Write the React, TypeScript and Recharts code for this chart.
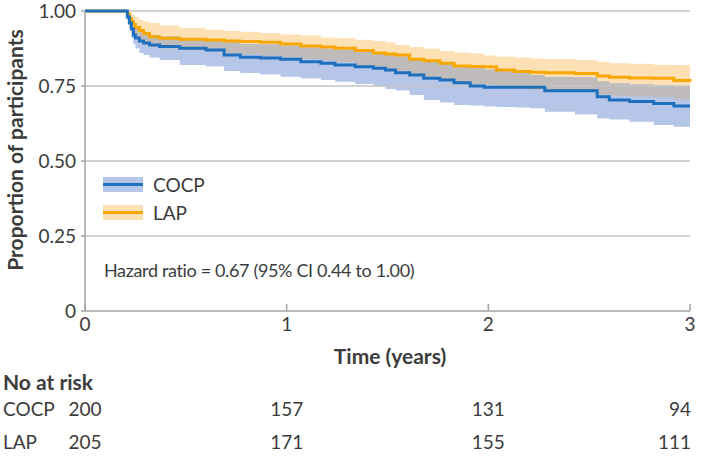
import React from 'react';
import { ComposedChart, Line, Area, XAxis, YAxis, ReferenceLine } from 'recharts';

// Time grid (years) at which the Kaplan-Meier steps are read
const times = [0, 0.21, 0.22, 0.23, 0.24, 0.25, 0.27, 0.29, 0.32, 0.37, 0.47, 0.6, 0.69, 0.77, 0.87, 0.97, 1.07, 1.17, 1.24, 1.34, 1.43, 1.49, 1.54, 1.61, 1.68, 1.76, 1.83, 1.91, 1.98, 2.04, 2.13, 2.21, 2.28, 2.43, 2.54, 2.6, 2.7, 2.82, 2.92, 3.0];

// COCP
const cocpSurvival = [1.0, 0.98, 0.96, 0.94, 0.92, 0.91, 0.9, 0.893, 0.887, 0.882, 0.876, 0.87, 0.853, 0.846, 0.843, 0.839, 0.831, 0.826, 0.82, 0.814, 0.809, 0.803, 0.794, 0.787, 0.776, 0.77, 0.761, 0.75, 0.746, 0.746, 0.746, 0.746, 0.734, 0.734, 0.714, 0.703, 0.698, 0.692, 0.683, 0.683];
const cocpLower = [1.0, 0.97, 0.94, 0.91, 0.89, 0.875, 0.86, 0.853, 0.845, 0.837, 0.82, 0.815, 0.8, 0.793, 0.788, 0.781, 0.775, 0.77, 0.764, 0.757, 0.748, 0.74, 0.735, 0.72, 0.703, 0.695, 0.687, 0.685, 0.682, 0.68, 0.678, 0.676, 0.664, 0.655, 0.642, 0.638, 0.631, 0.62, 0.614, 0.614];
const cocpUpper = [1.0, 0.99, 0.98, 0.965, 0.95, 0.94, 0.93, 0.925, 0.92, 0.915, 0.91, 0.905, 0.895, 0.89, 0.888, 0.884, 0.878, 0.874, 0.87, 0.864, 0.86, 0.855, 0.848, 0.842, 0.833, 0.826, 0.82, 0.81, 0.805, 0.802, 0.795, 0.787, 0.78, 0.778, 0.765, 0.758, 0.755, 0.752, 0.748, 0.748];

// LAP
const lapSurvival = [1.0, 0.99, 0.975, 0.965, 0.955, 0.945, 0.935, 0.925, 0.914, 0.909, 0.906, 0.903, 0.9, 0.898, 0.896, 0.89, 0.883, 0.88, 0.876, 0.868, 0.86, 0.857, 0.853, 0.839, 0.834, 0.826, 0.817, 0.815, 0.814, 0.803, 0.798, 0.796, 0.794, 0.792, 0.783, 0.779, 0.777, 0.776, 0.768, 0.764];
const lapLower = [1.0, 0.975, 0.955, 0.94, 0.925, 0.91, 0.9, 0.89, 0.88, 0.875, 0.87, 0.866, 0.86, 0.855, 0.852, 0.846, 0.84, 0.836, 0.83, 0.82, 0.812, 0.806, 0.8, 0.785, 0.778, 0.77, 0.76, 0.757, 0.755, 0.745, 0.74, 0.737, 0.735, 0.733, 0.722, 0.718, 0.715, 0.712, 0.705, 0.703];
const lapUpper = [1.0, 1.0, 0.995, 0.99, 0.985, 0.98, 0.97, 0.965, 0.96, 0.952, 0.943, 0.937, 0.933, 0.931, 0.927, 0.922, 0.918, 0.912, 0.909, 0.904, 0.9, 0.896, 0.887, 0.88, 0.875, 0.866, 0.862, 0.858, 0.852, 0.848, 0.845, 0.842, 0.84, 0.837, 0.831, 0.826, 0.824, 0.821, 0.82, 0.82];

const yTicks = [0, 0.25, 0.5, 0.75, 1];
const yTickLabels = ['0', '0.25', '0.50', '0.75', '1.00'];
const gridLevels = [0.25, 0.5, 0.75, 1];
const xTicks = [0, 1, 2, 3];

const atRiskTimes = [0, 1, 2, 3];
const cocpAtRisk = [200, 157, 131, 94];
const lapAtRisk = [205, 171, 155, 111];

const hazardText = 'Hazard ratio = 0.67 (95% CI 0.44 to 1.00)';

const BLUE = '#1f6fbf';
const ORANGE = '#f7a800';
const BLUE_BAND = '#b5c6e8';
const ORANGE_BAND = '#fde1b4';
const GRAY_BAND = '#bfbbbb';
const TEXT = '#3c3c3c';
const FONT = 'Lato, "Noto Sans", sans-serif';

const data = times.map((t, i) => {
  const lo = Math.max(cocpLower[i], lapLower[i]);
  const hi = Math.min(cocpUpper[i], lapUpper[i]);
  return {
    t,
    cocp: cocpSurvival[i],
    lap: lapSurvival[i],
    cocpBand: [cocpLower[i], cocpUpper[i]],
    lapBand: [lapLower[i], lapUpper[i]],
    overlap: hi > lo ? [lo, hi] : [lo, lo],
  };
});

// plot frame (used to place the at-risk numbers under the x ticks)
const PLOT_LEFT = 85;
const PLOT_RIGHT = 690;
const xPos = (t: number) => PLOT_LEFT + (t / 3) * (PLOT_RIGHT - PLOT_LEFT);

const Swatch = ({ band, line }: { band: string; line: string }) => (
  <div style={{ position: 'relative', width: 40, height: 15, background: band }}>
    <div style={{ position: 'absolute', left: 0, right: 0, top: 6, height: 3, background: line }} />
  </div>
);

export default function App() {
  return (
    <div style={{ position: 'relative', width: 708, height: 463, fontFamily: FONT, color: TEXT }}>
      <style>{`body{margin:0;}`}</style>
      <ComposedChart width={708} height={340} data={data} margin={{ top: 11, right: 18, bottom: 0, left: 0 }}>
        <XAxis
          dataKey="t"
          type="number"
          domain={[0, 3]}
          ticks={xTicks}
          height={29}
          tickSize={-7}
          tickMargin={14}
          axisLine={{ stroke: '#a3a3a3', strokeWidth: 1.5 }}
          tickLine={{ stroke: '#a3a3a3', strokeWidth: 1.5 }}
          tick={{ fill: TEXT, fontSize: 19, fontFamily: FONT }}
        />
        <YAxis
          type="number"
          domain={[0, 1]}
          ticks={yTicks}
          width={85}
          tickSize={4}
          tickMargin={5}
          tickFormatter={(v: number) => yTickLabels[yTicks.indexOf(v)] ?? String(v)}
          axisLine={{ stroke: '#a3a3a3', strokeWidth: 1.5 }}
          tickLine={{ stroke: '#a3a3a3', strokeWidth: 1.5 }}
          tick={{ fill: TEXT, fontSize: 19, fontFamily: FONT }}
        />
        <Area dataKey="lapBand" type="stepAfter" stroke="none" fill={ORANGE_BAND} fillOpacity={1} isAnimationActive={false} />
        <Area dataKey="cocpBand" type="stepAfter" stroke="none" fill={BLUE_BAND} fillOpacity={1} isAnimationActive={false} />
        <Area dataKey="overlap" type="stepAfter" stroke="none" fill={GRAY_BAND} fillOpacity={1} isAnimationActive={false} />
        {gridLevels.map((g) => (
          <ReferenceLine key={g} y={g} stroke="#c4c4c4" strokeWidth={1.5} />
        ))}
        <Line dataKey="lap" type="stepAfter" stroke={ORANGE} strokeWidth={3} dot={false} isAnimationActive={false} />
        <Line dataKey="cocp" type="stepAfter" stroke={BLUE} strokeWidth={3} dot={false} isAnimationActive={false} />
      </ComposedChart>

      {/* y axis title */}
      <div
        style={{
          position: 'absolute',
          left: 14,
          top: 150,
          transform: 'translate(-50%, -50%) rotate(-90deg)',
          whiteSpace: 'nowrap',
          fontWeight: 700,
          fontSize: 21,
        }}
      >
        Proportion of participants
      </div>

      {/* legend */}
      <div style={{ position: 'absolute', left: 103, top: 177, display: 'flex', alignItems: 'center' }}>
        <Swatch band={BLUE_BAND} line={BLUE} />
        <span style={{ marginLeft: 10, fontSize: 19, lineHeight: '15px' }}>COCP</span>
      </div>
      <div style={{ position: 'absolute', left: 103, top: 205, display: 'flex', alignItems: 'center' }}>
        <Swatch band={ORANGE_BAND} line={ORANGE} />
        <span style={{ marginLeft: 10, fontSize: 19, lineHeight: '15px' }}>LAP</span>
      </div>

      {/* hazard ratio */}
      <div style={{ position: 'absolute', left: 104, top: 259, fontSize: 18, letterSpacing: -0.35, lineHeight: '22px', whiteSpace: 'nowrap' }}>
        {hazardText}
      </div>

      {/* x axis title */}
      <div style={{ position: 'absolute', left: 390, top: 355, transform: 'translate(-50%, -50%)', fontWeight: 700, fontSize: 21, whiteSpace: 'nowrap' }}>
        Time (years)
      </div>

      {/* number at risk */}
      <div style={{ position: 'absolute', left: 3, top: 381, transform: 'translateY(-50%)', fontWeight: 700, fontSize: 21 }}>No at risk</div>
      <div style={{ position: 'absolute', left: 3, top: 408, transform: 'translateY(-50%)', fontSize: 19 }}>COCP</div>
      <div style={{ position: 'absolute', left: 3, top: 441, transform: 'translateY(-50%)', fontSize: 19 }}>LAP</div>
      {atRiskTimes.map((t, i) => {
        const last = i === atRiskTimes.length - 1;
        const tf = last ? 'translate(-100%, -50%)' : 'translate(-50%, -50%)';
        const x = last ? xPos(t) + 1 : xPos(t);
        return (
          <React.Fragment key={t}>
            <div style={{ position: 'absolute', left: x, top: 408, transform: tf, fontSize: 19, whiteSpace: 'nowrap' }}>{cocpAtRisk[i]}</div>
            <div style={{ position: 'absolute', left: x, top: 441, transform: tf, fontSize: 19, whiteSpace: 'nowrap' }}>{lapAtRisk[i]}</div>
          </React.Fragment>
        );
      })}
    </div>
  );
}
